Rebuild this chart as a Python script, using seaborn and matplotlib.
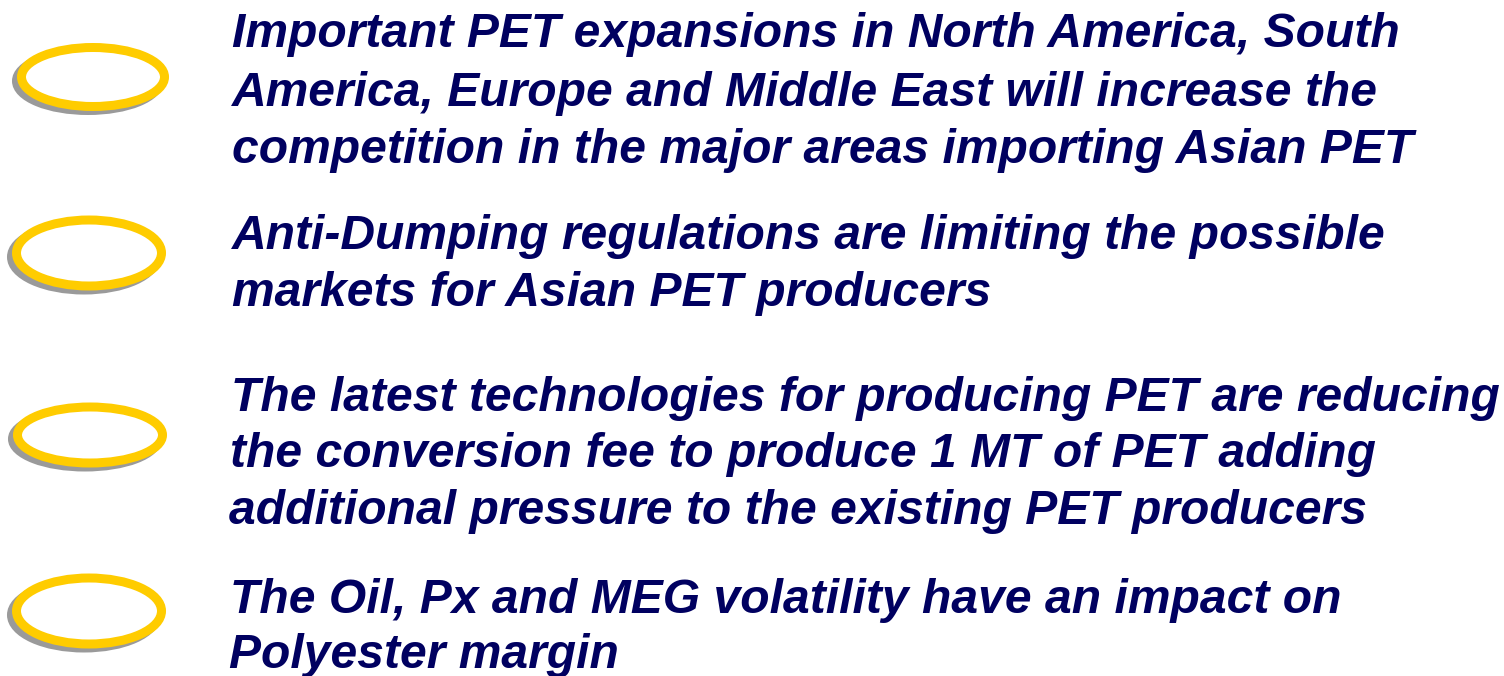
import matplotlib
matplotlib.use("Agg")
import numpy as np
import seaborn as sns
import matplotlib.pyplot as plt
from matplotlib.patches import Ellipse

# slide text, one list per bullet
bullet1 = ["Important PET expansions in North America, South",
           "America, Europe and Middle East will increase the",
           "competition in the major areas importing Asian PET"]
bullet2 = ["Anti-Dumping regulations are limiting the possible",
           "markets for Asian PET producers"]
bullet3 = ["The latest technologies for producing PET are reducing",
           "the conversion fee to produce 1 MT of PET adding",
           "additional pressure to the existing PET producers"]
bullet4 = ["The Oil, Px and MEG volatility have an impact on",
           "Polyester margin"]
bullets = [bullet1, bullet2, bullet3, bullet4]

# layout (pixels)
baselines = [[47, 106, 163], [249, 306], [411, 467, 524], [613, 668]]
text_x = [[232, 232, 232], [232, 232], [231, 230, 229], [230, 229]]
ell_cx = [93, 89, 90, 89]
ell_cy = [77, 253, 435, 611]
ell_w = [152, 154, 154, 154]
ell_h = [68, 75, 65, 75]

sns.set_style("white")
plt.rcParams['font.family'] = ['Liberation Sans', 'DejaVu Sans']

W, H = 1504, 676
fig = plt.figure(figsize=(W / 100, H / 100), dpi=100)
ax = fig.add_axes([0, 0, 1, 1])
ax.set_xlim(0, W)
ax.set_ylim(H, 0)
ax.axis('off')

stroke = 9
lw = stroke * 72 / 100
for cx, cy, w, h in zip(ell_cx, ell_cy, ell_w, ell_h):
    # drop shadow
    ax.add_patch(Ellipse((cx - 5, cy + 4), w - stroke, h - stroke, fill=False,
                         edgecolor='#9a9a9a', linewidth=lw, zorder=1))
    ax.add_patch(Ellipse((cx, cy), w - stroke, h - stroke, facecolor='white',
                         edgecolor='#ffcc00', linewidth=lw, zorder=2))

for lines, ys, xs in zip(bullets, baselines, text_x):
    for line, y, x in zip(lines, ys, xs):
        ax.text(x, y, line, fontsize=34.6, fontweight='bold', fontstyle='italic',
                color='#000060', va='baseline', ha='left', zorder=3)

fig.savefig('out.png', dpi=100)
